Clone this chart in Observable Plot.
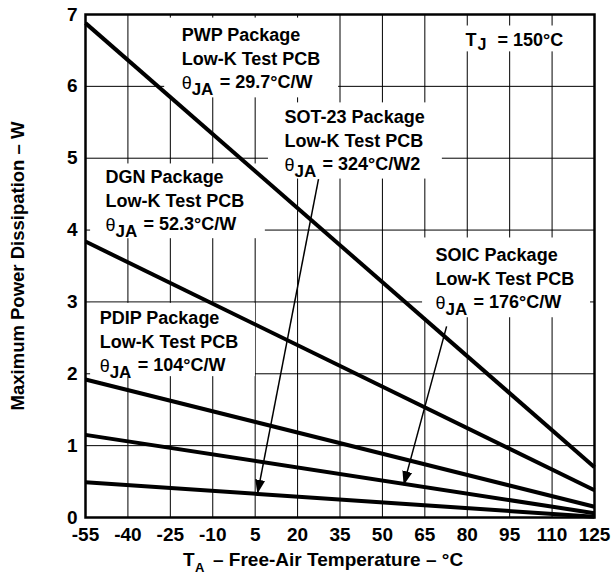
<!DOCTYPE html>
<html>
<head>
<meta charset="utf-8">
<script src="https://cdn.jsdelivr.net/npm/d3@7"></script>
<script src="https://cdn.jsdelivr.net/npm/@observablehq/plot@0.6"></script>
<style>
  html, body { margin: 0; padding: 0; background: white; }
</style>
</head>
<body>
<div id="chart"></div>
<script>
// ---- data ----
const temps = [-55, 125];
const packages = ["PWP", "DGN", "PDIP", "SOIC", "SOT-23"];
const powerAtMinus55 = [6.88, 3.84, 1.92, 1.15, 0.49];
const powerAt125 = [0.70, 0.38, 0.15, 0.06, 0.01];

const xTicks = [-55, -40, -25, -10, 5, 20, 35, 50, 65, 80, 95, 110, 125];
const yTicks = [0, 1, 2, 3, 4, 5, 6, 7];

// annotation labels
const labelNames = ["PWP Package", "SOT-23 Package", "DGN Package", "SOIC Package", "PDIP Package"];
const labelTheta = ["= 29.7°C/W", "= 324°C/W2", "= 52.3°C/W", "= 176°C/W", "= 104°C/W"];
const labelX = [-21.0, 15.4, -47.9, 68.8, -50.0];
const labelY = [6.71, 5.57, 4.73, 3.65, 2.77];

// white boxes behind the labels (data units)
const boxX1 = [-27, 9.7, -53.2, 64.2, -53.2, 70.5];
const boxX2 = [34.5, 71.2, 8.6, 123.6, 5.1, 121.8];
const boxY1 = [5.84, 4.71, 3.88, 2.78, 1.96, 6.48];
const boxY2 = [6.95, 5.77, 4.92, 3.89, 2.98, 6.84];

// arrows (from label to curve)
const arrowFromX = [27.4, 72.7];
const arrowFromY = [4.71, 2.66];
const arrowToX = [5.8, 57.5];
const arrowToY = [0.33, 0.45];

// junction temperature note
const tjX = 79.4, tjY = 6.64;

// ---- build tables ----
const lineData = packages.flatMap((p, i) => [
  {pkg: p, t: temps[0], w: powerAtMinus55[i]},
  {pkg: p, t: temps[1], w: powerAt125[i]}
]);
const labels = labelNames.map((n, i) => ({name: n, theta: labelTheta[i], x: labelX[i], y: labelY[i]}));
const boxes = boxX1.map((v, i) => ({x1: v, x2: boxX2[i], y1: boxY1[i], y2: boxY2[i]}));
const arrows = arrowFromX.map((v, i) => ({x1: v, y1: arrowFromY[i], x2: arrowToX[i], y2: arrowToY[i]}));

const FONT = "'Liberation Sans', Arial, Helvetica, sans-serif";

function headMarker(color, context) {
  const doc = context.document;
  const ns = "http://www.w3.org/2000/svg";
  const m = doc.createElementNS(ns, "marker");
  m.setAttribute("viewBox", "-14 -6 14 12");
  m.setAttribute("markerWidth", "14");
  m.setAttribute("markerHeight", "12");
  m.setAttribute("markerUnits", "userSpaceOnUse");
  m.setAttribute("orient", "auto");
  m.setAttribute("refX", "0");
  m.setAttribute("refY", "0");
  const p = doc.createElementNS(ns, "path");
  p.setAttribute("d", "M0,0L-14,-5L-14,5Z");
  p.setAttribute("fill", "black");
  p.setAttribute("stroke", "none");
  m.appendChild(p);
  return m;
}

function build(useCustomMarker) {
  const textBase = {fontFamily: FONT, fontWeight: "bold", fontSize: 18, fill: "black", textAnchor: "start"};
  const arrowMark = useCustomMarker
    ? Plot.link(arrows, {x1: "x1", y1: "y1", x2: "x2", y2: "y2", stroke: "black", strokeWidth: 1.5, markerEnd: headMarker})
    : Plot.arrow(arrows, {x1: "x1", y1: "y1", x2: "x2", y2: "y2", stroke: "black", strokeWidth: 1.8, headLength: 12, headAngle: 40});
  return Plot.plot({
    width: 614,
    height: 583,
    marginLeft: 85,
    marginRight: 20,
    marginTop: 14,
    marginBottom: 66,
    style: {fontFamily: FONT, fontSize: "19px", fontWeight: "bold", background: "white", color: "black", overflow: "visible"},
    x: {domain: [-55, 125], ticks: xTicks, tickFormat: d => String(d), label: null, tickSize: 0, tickPadding: 10},
    y: {domain: [0, 7], ticks: yTicks, tickFormat: d => String(d), label: null, tickSize: 0, tickPadding: 8},
    marks: [
      Plot.gridX(xTicks, {stroke: "black", strokeOpacity: 1, strokeWidth: 1}),
      Plot.gridY(yTicks, {stroke: "black", strokeOpacity: 1, strokeWidth: 1}),
      Plot.rect(boxes, {x1: "x1", x2: "x2", y1: "y1", y2: "y2", fill: "white"}),
      Plot.line(lineData, {x: "t", y: "w", z: "pkg", stroke: "black", strokeWidth: 4, strokeLinecap: "butt"}),
      arrowMark,
      // label texts
      Plot.text(labels, {...textBase, x: "x", y: "y", text: "name"}),
      Plot.text(labels, {...textBase, x: "x", y: "y", text: () => "Low-K Test PCB", dy: 24}),
      Plot.text(labels, {...textBase, x: "x", y: "y", text: () => "θ", dy: 48, fontWeight: "normal"}),
      Plot.text(labels, {...textBase, x: "x", y: "y", text: () => "JA", dy: 54, dx: 10, fontSize: 17}),
      Plot.text(labels, {...textBase, x: "x", y: "y", text: "theta", dy: 47, dx: 38}),
      // T_J note
      Plot.text([tjX], {...textBase, x: d => d, y: () => tjY, text: () => "T"}),
      Plot.text([tjX], {...textBase, x: d => d, y: () => tjY, text: () => "J", dx: 12, dy: 5, fontSize: 16}),
      Plot.text([tjX], {...textBase, x: d => d, y: () => tjY, text: () => "= 150°C", dx: 32}),
      // axis titles
      Plot.text(["Maximum Power Dissipation – W"], {fontFamily: FONT, fontWeight: "bold", fontSize: 18.5, frameAnchor: "left", textAnchor: "middle", rotate: -90, dx: -67, text: d => d, fill: "black"}),
      Plot.text(["T"], {fontFamily: FONT, fontWeight: "bold", fontSize: 19, frameAnchor: "bottom", textAnchor: "start", dx: -157, dy: 48, text: d => d, fill: "black"}),
      Plot.text(["A"], {fontFamily: FONT, fontWeight: "bold", fontSize: 13, frameAnchor: "bottom", textAnchor: "start", dx: -145, dy: 54, text: d => d, fill: "black"}),
      Plot.text(["– Free-Air Temperature – °C"], {fontFamily: FONT, fontWeight: "bold", fontSize: 19, frameAnchor: "bottom", textAnchor: "start", dx: -127, dy: 48, text: d => d, fill: "black"}),
      Plot.frame({stroke: "black", strokeWidth: 2.5})
    ]
  });
}

let chart;
try {
  chart = build(true);
} catch (e) {
  chart = build(false);
}
document.getElementById("chart").appendChild(chart);
</script>
</body>
</html>
